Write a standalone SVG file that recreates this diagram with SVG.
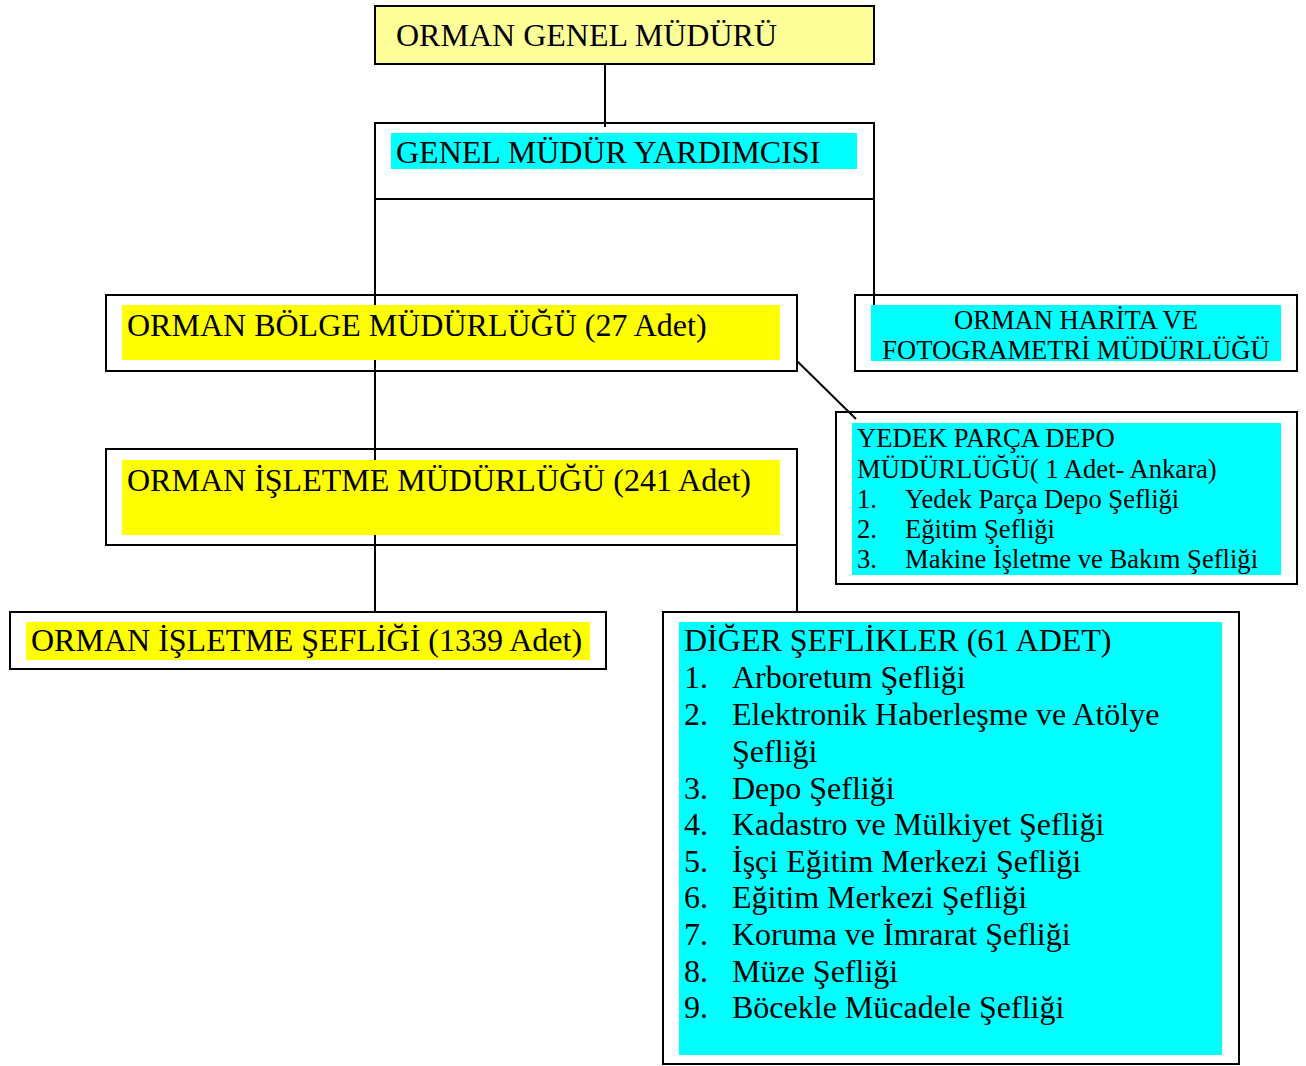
<svg xmlns="http://www.w3.org/2000/svg" width="1306" height="1066" viewBox="0 0 1306 1066">
<style>
.box{fill:none;stroke:#000;stroke-width:2}
.conn line{stroke:#000;stroke-width:2}
.y{fill:#FFFF00}
.c{fill:#00FFFF}
text{font-family:"Liberation Serif","Times New Roman",serif;fill:#000}
.t32{font-size:32px}
.t26{font-size:26.6px}
</style>
<rect width="1306" height="1066" fill="#fff"/>
<g id="n1">
<rect x="375" y="6" width="499" height="58" fill="#FFFF99" stroke="#000" stroke-width="2"/>
<text class="t32" x="396" y="46">ORMAN GENEL MÜDÜRÜ</text>
</g>
<g id="connectors" class="conn">
<line x1="605" y1="64" x2="605" y2="127"/>
<line x1="375" y1="199" x2="874" y2="199"/>
<line x1="375" y1="199" x2="375" y2="612"/>
<line x1="874" y1="199" x2="874" y2="306"/>
<line x1="797" y1="545" x2="797" y2="612"/>
<line x1="797" y1="361" x2="856" y2="419"/>
</g>
<g id="n2">
<rect class="box" x="375" y="123" width="499" height="76"/>
<rect class="c" x="391" y="133" width="466" height="36"/>
<text class="t32" x="396" y="163">GENEL MÜDÜR YARDIMCISI</text>
</g>
<g id="n3">
<rect class="box" x="106" y="295" width="691" height="76"/>
<rect class="y" x="122" y="305" width="658" height="55"/>
<text class="t32" x="127" y="336">ORMAN BÖLGE MÜDÜRLÜĞÜ (27 Adet)</text>
</g>
<g id="n4">
<rect class="box" x="855" y="295" width="442" height="76"/>
<rect class="c" x="871" y="305" width="410" height="56"/>
<text class="t26" x="1076" y="329" text-anchor="middle">ORMAN HARİTA VE</text>
<text class="t26" x="1076" y="359" text-anchor="middle">FOTOGRAMETRİ MÜDÜRLÜĞÜ</text>
</g>
<g id="n5">
<rect class="box" x="836" y="412" width="461" height="172"/>
<rect class="c" x="852" y="423" width="429" height="152"/>
<text class="t26" x="857" y="447">YEDEK PARÇA DEPO</text>
<text class="t26" x="857" y="478">MÜDÜRLÜĞÜ( 1 Adet- Ankara)</text>
<text class="t26" x="857" y="508">1.</text><text class="t26" x="905" y="508">Yedek Parça Depo Şefliği</text>
<text class="t26" x="857" y="538">2.</text><text class="t26" x="905" y="538">Eğitim Şefliği</text>
<text class="t26" x="857" y="568">3.</text><text class="t26" x="905" y="568">Makine İşletme ve Bakım Şefliği</text>
</g>
<g id="n6">
<rect class="box" x="106" y="449" width="691" height="96"/>
<rect class="y" x="122" y="460" width="658" height="75"/>
<text class="t32" x="127" y="491">ORMAN İŞLETME MÜDÜRLÜĞÜ (241 Adet)</text>
</g>
<g id="n7">
<rect class="box" x="10" y="612" width="596" height="57"/>
<rect class="y" x="26" y="622" width="564" height="38"/>
<text class="t32" x="31" y="651">ORMAN İŞLETME ŞEFLİĞİ (1339 Adet)</text>
</g>
<g id="n8">
<rect class="box" x="663" y="612" width="576" height="452"/>
<rect class="c" x="679" y="622" width="543" height="433"/>
<text class="t32" x="684" y="651">DİĞER ŞEFLİKLER (61 ADET)</text>
<text class="t32" x="684" y="688">1.</text><text class="t32" x="732" y="688">Arboretum Şefliği</text>
<text class="t32" x="684" y="725">2.</text><text class="t32" x="732" y="725">Elektronik Haberleşme ve Atölye</text>
<text class="t32" x="732" y="762">Şefliği</text>
<text class="t32" x="684" y="799">3.</text><text class="t32" x="732" y="799">Depo Şefliği</text>
<text class="t32" x="684" y="835">4.</text><text class="t32" x="732" y="835">Kadastro ve Mülkiyet Şefliği</text>
<text class="t32" x="684" y="872">5.</text><text class="t32" x="732" y="872">İşçi Eğitim Merkezi Şefliği</text>
<text class="t32" x="684" y="908">6.</text><text class="t32" x="732" y="908">Eğitim Merkezi Şefliği</text>
<text class="t32" x="684" y="945">7.</text><text class="t32" x="732" y="945">Koruma ve İmrarat Şefliği</text>
<text class="t32" x="684" y="982">8.</text><text class="t32" x="732" y="982">Müze Şefliği</text>
<text class="t32" x="684" y="1018">9.</text><text class="t32" x="732" y="1018">Böcekle Mücadele Şefliği</text>
</g>
</svg>
